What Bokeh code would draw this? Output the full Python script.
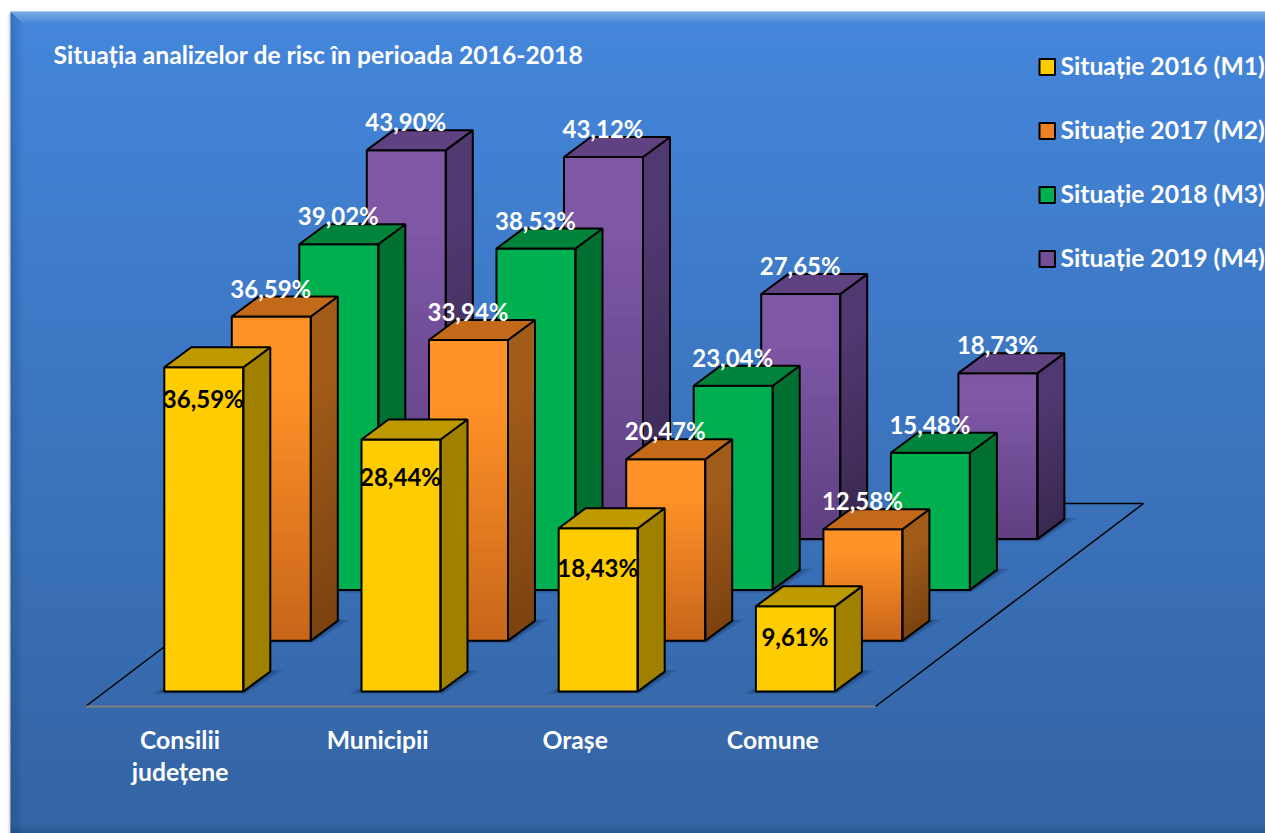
from bokeh.plotting import figure
from bokeh.models import ColumnDataSource
from bokeh.core.properties import value
from bokeh.embed import file_html
from bokeh.resources import INLINE

# ---- data ----
categories = ["Consilii\njudețene", "Municipii", "Orașe", "Comune"]
series_names = ["Situație 2016 (M1)", "Situație 2017 (M2)", "Situație 2018 (M3)", "Situație 2019 (M4)"]
m1 = [36.59, 28.44, 18.43, 9.61]
m2 = [36.59, 33.94, 20.47, 12.58]
m3 = [39.02, 38.53, 23.04, 15.48]
m4 = [43.90, 43.12, 27.65, 18.73]
all_series = [m1, m2, m3, m4]
title_text = "Situația analizelor de risc în perioada 2016-2018"

# ---- layout / projection of the 3D chart ----
W, H = 1265, 833
FONT = value("Lato")
PX_PER_PCT = 8.86
BASE_X, BASE_Y = 163.8, 691.0
CAT_STEP = 197.2
SER_DX, SER_DY = 67.5, -50.8
BAR_W = 79.0
DEPTH_X, DEPTH_Y = 27.0, -20.0
NSTRIP = 36

# front-top, front-bottom, side-top, side-bottom, top face
styles = [
    ("#ffcc00", "#ffcc00", "#a08000", "#a08000", "#bf9900"),
    ("#ff9228", "#c8651a", "#a25c1a", "#7b4210", "#c2691a"),
    ("#00b050", "#00b050", "#007030", "#007030", "#00843c"),
    ("#7e57a5", "#5e3f80", "#503870", "#392950", "#604282"),
]
label_inside_dy = [31, 37, 39, 30]


def hex2rgb(c):
    return tuple(int(c[i:i + 2], 16) for i in (1, 3, 5))


def mix(a, b, t):
    ra, rb = hex2rgb(a), hex2rgb(b)
    return "#%02x%02x%02x" % tuple(round(x + (y - x) * t) for x, y in zip(ra, rb))


def grad(a, b, t):
    return mix(a, b, max(0.0, (t - 0.2) / 0.8))


faces = dict(xs=[], ys=[], fill=[], alpha=[], line=[], lw=[], la=[])


def add(xs, ys, fill, alpha=1.0, line=None, lw=1.0, la=1.0):
    faces["xs"].append(xs)
    faces["ys"].append(ys)
    faces["fill"].append(fill)
    faces["alpha"].append(alpha)
    faces["line"].append(line or fill)
    faces["lw"].append(lw)
    faces["la"].append(la)


def bar(c, s, v):
    st = styles[s]
    x0 = BASE_X + c * CAT_STEP + s * SER_DX
    x1 = x0 + BAR_W
    base = BASE_Y + s * SER_DY
    top = base - v * PX_PER_PCT
    # soft floor shadow
    for grow, a in [(14, 0.10), (10, 0.12), (6, 0.14), (3, 0.18)]:
        add([x0 - grow, x1 + 2, x1 + DEPTH_X + grow, x0 + DEPTH_X],
            [base + 0.2 * grow, base + 0.2 * grow, base + DEPTH_Y - 0.1 * grow, base + DEPTH_Y],
            "#0a1f3f", a, "#0a1f3f", 0, 0)
    h = base - top
    for i in range(NSTRIP):
        t0, t1 = i / NSTRIP, (i + 1) / NSTRIP
        y0, y1 = top + h * t0, min(base, top + h * t1 + 2)
        tm = (t0 + t1) / 2
        add([x0, x1, x1, x0], [y0, y0, y1, y1], grad(st[0], st[1], tm), lw=0, la=0)
        add([x1, x1 + DEPTH_X, x1 + DEPTH_X, x1],
            [y0, y0 + DEPTH_Y, y1 + DEPTH_Y, y1], grad(st[2], st[3], tm), lw=0, la=0)
    # outlines
    add([x0, x1, x1, x0], [top, top, base, base], "#000000", 0, "#000000", 2, 1)
    add([x1, x1 + DEPTH_X, x1 + DEPTH_X, x1], [top, top + DEPTH_Y, base + DEPTH_Y, base],
        "#000000", 0, "#000000", 2, 1)
    add([x0, x0 + DEPTH_X, x1 + DEPTH_X, x1], [top, top + DEPTH_Y, top + DEPTH_Y, top],
        st[4], 1, "#000000", 2, 1)


p = figure(width=W, height=H, x_range=(0, W), y_range=(H, 0), tools="",
           toolbar_location=None, output_backend="svg", min_border=0,
           margin=(0, 0, 0, 0))
p.axis.visible = False
p.grid.visible = False
p.outline_line_color = None
p.background_fill_color = "#ffffff"
p.border_fill_color = "#ffffff"

# panel background, vertical gradient
PANEL_X, PANEL_Y = 10, 11
rows = list(range(PANEL_Y, H, 3))
top_c, bot_c = "#4486db", "#3464a3"
p.quad(left=PANEL_X, right=W, top=rows, bottom=[r + 3.5 for r in rows],
       fill_color=[mix(top_c, bot_c, (r - PANEL_Y) / (H - PANEL_Y)) for r in rows],
       line_color=None)

# bevel
for i in range(12):
    f = 1 - i / 12
    p.patch([PANEL_X + i, W, W, PANEL_X + i + 1], [PANEL_Y + i, PANEL_Y + i, PANEL_Y + i + 1, PANEL_Y + i + 1],
            fill_color="#ffffff", fill_alpha=0.32 * f, line_color=None)
    p.patch([PANEL_X + i, PANEL_X + i + 1, PANEL_X + i + 1, PANEL_X + i],
            [PANEL_Y + i, PANEL_Y + i + 1, H, H],
            fill_color="#0a2a55", fill_alpha=0.22 * f, line_color=None)
for i in range(8):
    f = i / 8
    p.quad(left=PANEL_X, right=W, top=H - 8 + i, bottom=H - 7 + i,
           fill_color="#0a2a55", fill_alpha=0.25 * f, line_color=None)
for i in range(3):
    p.quad(left=PANEL_X - 3 + i, right=PANEL_X - 2 + i, top=PANEL_Y + 2, bottom=H,
           fill_color="#000000", fill_alpha=0.05 * (i + 1), line_color=None)

# floor
fx0 = 85
fy0 = BASE_Y + 15
fx1 = fx0 + 790
fx2 = fx1 + 268
fy2 = fy0 - 203
back_start = BASE_X + 3 * CAT_STEP + 3 * SER_DX + BAR_W
p.line([fx0, fx0 + 268], [fy0, fy2], line_color="#000000", line_width=1.5)
p.line([back_start, fx2], [fy2, fy2], line_color="#000000", line_width=1.5)
p.line([fx1, fx2], [fy0, fy2], line_color="#000000", line_width=1.5)
p.line([fx0, fx1], [fy0, fy0], line_color="#7f7f7f", line_width=2)

# bars: back row first
for s in range(3, -1, -1):
    for c in range(4):
        bar(c, s, all_series[s][c])
p.patches("xs", "ys", source=ColumnDataSource(faces), fill_color="fill", fill_alpha="alpha",
          line_color="line", line_width="lw", line_alpha="la")

# value labels
lx, ly, lt, lc = [], [], [], []
for s in range(4):
    for c in range(4):
        v = all_series[s][c]
        x0 = BASE_X + c * CAT_STEP + s * SER_DX
        top = BASE_Y + s * SER_DY - v * PX_PER_PCT
        lx.append(x0 + BAR_W / 2 - 0.5)
        ly.append(top + (label_inside_dy[c] if s == 0 else -28.5))
        lt.append(f"{v:.2f}%".replace(".", ","))
        lc.append("#000000" if s == 0 else "#ffffff")
p.text(lx, ly, text=lt, text_color=lc, text_font=FONT, text_font_style="bold",
       text_font_size="24px", text_align="center", text_baseline="middle")

# category labels (one text per line)
cat_x, cat_y, cat_t = [], [], []
for i, name in enumerate(categories):
    for j, part in enumerate(name.split("\n")):
        cat_x.append(179.5 + i * 197.6)
        cat_y.append(739 + j * 32)
        cat_t.append(part)
p.text(cat_x, cat_y, text=cat_t, text_color="#ffffff", text_font=FONT,
       text_font_style="bold", text_font_size="24.7px", text_align="center",
       text_baseline="middle")

# title
p.text([53], [54], text=[title_text], text_color="#ffffff", text_font=FONT,
       text_font_style="bold", text_font_size="24.7px", text_align="left", text_baseline="middle")

# legend
leg_y = [66.5 + 64 * i for i in range(4)]
for i, y in enumerate(leg_y):
    st = styles[i]
    p.quad(left=1039, right=1054.5, top=y - 8, bottom=y + 8, fill_color=mix(st[0], st[1], 0.35),
           line_color="#000000", line_width=2)
p.text([1060] * 4, [y - 1.5 for y in leg_y], text=series_names, text_color="#ffffff", text_font=FONT,
       text_font_style="bold", text_font_size="24.7px", text_align="left", text_baseline="middle")

open("out.html", "w").write(file_html(p, INLINE))
